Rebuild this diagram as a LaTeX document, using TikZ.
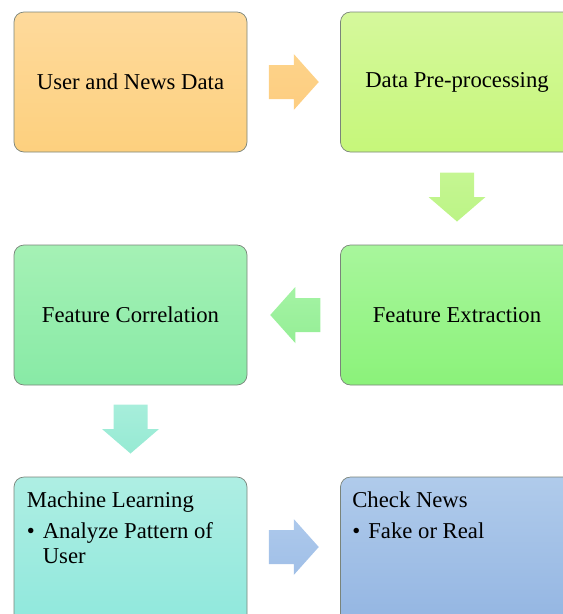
\documentclass[tikz,border=0pt]{standalone}
\usepackage{fontspec}
\setmainfont{Liberation Serif}
\usetikzlibrary{calc}

% fill colours of the stages (top / bottom of each gradient)
\definecolor{aTop}{HTML}{FEDA9C}\definecolor{aBot}{HTML}{FDD07E}
\definecolor{bTop}{HTML}{D5F89C}\definecolor{bBot}{HTML}{C6F77A}
\definecolor{dTop}{HTML}{A8F69C}\definecolor{dBot}{HTML}{8BF27A}
\definecolor{cTop}{HTML}{A5F1B5}\definecolor{cBot}{HTML}{88EAA6}
\definecolor{eTop}{HTML}{AEEEE3}\definecolor{eBot}{HTML}{8FE8DC}
\definecolor{fTop}{HTML}{B0CBEB}\definecolor{fBot}{HTML}{93B5E2}
% block arrow colours
\definecolor{arA}{HTML}{FDD38A}\definecolor{arAb}{HTML}{FDCD80}
\definecolor{arB}{HTML}{C5F692}\definecolor{arBb}{HTML}{BCF486}
\definecolor{arC}{HTML}{A4F3A4}\definecolor{arCb}{HTML}{95EE96}
\definecolor{arD}{HTML}{A7EEDB}\definecolor{arDb}{HTML}{96EAD3}
\definecolor{arE}{HTML}{ADC9EC}\definecolor{arEb}{HTML}{A0BFE7}
\definecolor{boxline}{HTML}{7A847A}

% horizontal block arrow: #1 centre, #2 direction (1 right, -1 left), #3 colours
\newcommand\hblock[3]{%
  \shade[#3] ($(#1)+(-25*#2,-17)$) -- ($(#1)+(0,-17)$) -- ($(#1)+(0,-28)$)
    -- ($(#1)+(25*#2,0)$) -- ($(#1)+(0,28)$) -- ($(#1)+(0,17)$)
    -- ($(#1)+(-25*#2,17)$) -- cycle;}
% downward block arrow: #1 centre, #2 colours
\newcommand\vblock[2]{%
  \shade[#2] ($(#1)+(-17,-24.5)$) -- ($(#1)+(-17,0)$) -- ($(#1)+(-28.5,0)$)
    -- ($(#1)+(0,24.5)$) -- ($(#1)+(28.5,0)$) -- ($(#1)+(17,0)$)
    -- ($(#1)+(17,-24.5)$) -- cycle;}

\begin{document}
\begin{tikzpicture}[x=1pt,y=-1pt,
    stagebox/.style={draw=boxline, line width=0.7pt, rounded corners=10pt,
      minimum width=233pt, minimum height=140pt, inner sep=0pt,
      font=\fontsize{22.7}{25}\selectfont, align=center},
    itemtext/.style={anchor=base west, inner sep=0pt,
      font=\fontsize{22.7}{25}\selectfont}]
\useasboundingbox (0,0) rectangle (563,614);
\clip (0,0) rectangle (563,614);

% stages
\node[stagebox, top color=aTop, bottom color=aBot] (a) at (130.5,82) {User and News Data};
\node[stagebox, top color=bTop, bottom color=bBot] (b) at (457,82) {Data Pre-processing};
\node[stagebox, top color=dTop, bottom color=dBot] (d) at (457,315) {Feature Extraction};
\node[stagebox, top color=cTop, bottom color=cBot] (c) at (130.5,315) {Feature Correlation};
\node[stagebox, minimum height=150pt, top color=eTop, bottom color=eBot] (e) at (130.5,552) {};
\node[stagebox, minimum height=150pt, top color=fTop, bottom color=fBot] (f) at (457,552) {};

% texts of the two last stages
\node[itemtext] (etitle) at ($(e.north west)+(13,31)$) {Machine Learning};
\node[itemtext] (ebullet) at ($(e.north west)+(13,62)$) {\textbullet};
\node[itemtext] (eline1) at ($(e.north west)+(29,62)$) {Analyze Pattern of};
\node[itemtext] (eline2) at ($(e.north west)+(29,87)$) {User};
\node[itemtext] (ftitle) at ($(f.north west)+(12,31)$) {Check News};
\node[itemtext] (fbullet) at ($(f.north west)+(12,62)$) {\textbullet};
\node[itemtext] (fline1) at ($(f.north west)+(28,62)$) {Fake or Real};

% block arrows between the stages
\coordinate (m1) at ($(a.east)!0.5!(b.west)$);
\coordinate (m2) at ($(b.south)!0.5!(d.north)+(0,-1.5)$);
\coordinate (m3) at ($(d.west)!0.5!(c.east)+(1.5,0)$);
\coordinate (m4) at ($(c.south)!0.5!(e.north)+(0,-2)$);
\coordinate (m5) at ($(e.east)!0.5!(f.west)+(0,-5)$);
\hblock{m1}{1}{top color=arA, bottom color=arAb}
\vblock{m2}{top color=arB, bottom color=arBb}
\hblock{m3}{-1}{top color=arC, bottom color=arCb}
\vblock{m4}{top color=arD, bottom color=arDb}
\hblock{m5}{1}{top color=arE, bottom color=arEb}
\end{tikzpicture}
\end{document}
